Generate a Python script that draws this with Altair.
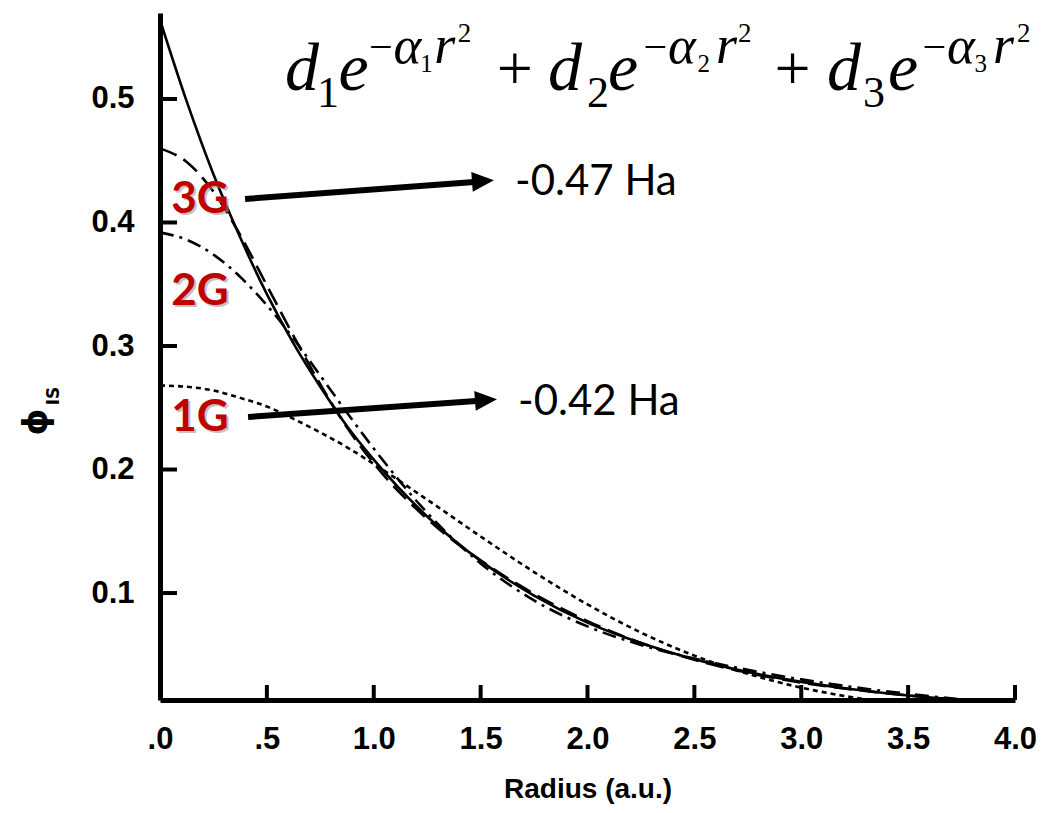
import altair as alt
import pandas as pd

# ---------------- data ----------------
radius = [0.0, 0.125, 0.25, 0.375, 0.5, 0.625, 0.75, 0.875, 1.0, 1.25, 1.5,
          1.75, 2.0, 2.25, 2.5, 2.75, 3.0, 3.25, 3.5, 3.75, 4.0]

exact_sto = [0.564, 0.498, 0.439, 0.388, 0.342, 0.302, 0.267, 0.235, 0.208,
             0.162, 0.126, 0.098, 0.076, 0.0595, 0.0463, 0.0361, 0.0281,
             0.0219, 0.0170, 0.0133, 0.0103]
sto_3g = [0.460, 0.449, 0.425, 0.390, 0.349, 0.308, 0.269, 0.234, 0.205,
          0.160, 0.1265, 0.0994, 0.0773, 0.0596, 0.0459, 0.0354, 0.0275,
          0.0217, 0.0171, 0.0135, 0.0107]
sto_2g = [0.392, 0.386, 0.374, 0.356, 0.333, 0.306, 0.276, 0.246, 0.217,
          0.165, 0.124, 0.094, 0.073, 0.058, 0.0469, 0.0378, 0.0301,
          0.0237, 0.0184, 0.0139, 0.0104]
sto_1g = [0.268, 0.267, 0.264, 0.258, 0.251, 0.241, 0.230, 0.218, 0.2045,
          0.1756, 0.1458, 0.117, 0.0908, 0.068, 0.0493, 0.0346, 0.0234,
          0.0153, 0.0097, 0.0059, 0.0035]

x_tick_values = [0.0, 0.5, 1.0, 1.5, 2.0, 2.5, 3.0, 3.5, 4.0]
x_inner_ticks = [0.5, 1.0, 1.5, 2.0, 2.5, 3.0, 3.5, 4.0]
y_tick_values = [0.1, 0.2, 0.3, 0.4, 0.5]

series_labels = ["3G", "2G", "1G"]
series_label_x = [0.187, 0.187, 0.187]
series_label_y = [0.418, 0.3437, 0.2417]

energy_text = ["-0.47 Ha", "-0.42 Ha"]
energy_x = [1.661, 1.675]
energy_y = [0.4223, 0.2441]

arrow_x = [0.398, 0.412]
arrow_y = [0.419, 0.2425]
arrow_x2 = [1.47, 1.48]
arrow_y2 = [0.4328, 0.2555]
head_x = [1.511, 1.525]
head_y = [0.4336, 0.2563]

# equation pieces: text, x, y, font size
eq_italic = [
    ("d", 0.585, 0.5073, 68), ("e", 0.835, 0.5073, 68), ("α", 1.092, 0.5291, 53), ("r", 1.283, 0.5291, 54),
    ("d", 1.815, 0.5073, 68), ("e", 2.096, 0.5073, 68), ("α", 2.377, 0.5291, 53), ("r", 2.601, 0.5291, 54),
    ("d", 3.120, 0.5073, 68), ("e", 3.406, 0.5073, 68), ("α", 3.682, 0.5291, 53), ("r", 3.897, 0.5291, 54),
]
eq_upright = [
    ("1", 0.735, 0.4935, 44), ("\u2212", 0.978, 0.5308, 42), ("1", 1.218, 0.5219, 25), ("2", 1.393, 0.5462, 27), ("+", 1.575, 0.5073, 64),
    ("2", 1.998, 0.4935, 44), ("\u2212", 2.262, 0.5308, 42), ("2", 2.515, 0.5219, 25), ("2", 2.704, 0.5462, 27), ("+", 2.875, 0.5073, 64),
    ("3", 3.289, 0.4935, 44), ("\u2212", 3.567, 0.5308, 42), ("3", 3.810, 0.5219, 25), ("2", 4.009, 0.5462, 27),
]

# ---------------- tables ----------------
rows = []
for name, vals in [("exact", exact_sto), ("3G", sto_3g), ("2G", sto_2g), ("1G", sto_1g)]:
    for r, v in zip(radius, vals):
        rows.append({"r": r, "phi": v, "series": name})
curves = pd.DataFrame(rows)

labels_df = pd.DataFrame({"t": series_labels, "x": series_label_x, "y": series_label_y})
energy_df = pd.DataFrame({"t": energy_text, "x": energy_x, "y": energy_y})
arrows_df = pd.DataFrame({"x": arrow_x, "y": arrow_y, "x2": arrow_x2, "y2": arrow_y2})
heads_df = pd.DataFrame({"x": head_x, "y": head_y})
eq_it_df = pd.DataFrame(eq_italic, columns=["t", "x", "y", "s"])
eq_up_df = pd.DataFrame(eq_upright, columns=["t", "x", "y", "s"])
xt_df = pd.DataFrame({"x": x_inner_ticks})
yt_df = pd.DataFrame({"y": y_tick_values})
ytitle_df = pd.DataFrame({"t": ["\u03d5", "IS"], "x": [-0.575, -0.496], "y": [0.2385, 0.2595], "s": [34, 17]})

W, H = 855, 687
xs = alt.Scale(domain=[0.0, 4.0], nice=False, zero=False)
ys = alt.Scale(domain=[0.0134, 0.5696], nice=False, zero=False)

AX_FONT = "Liberation Sans"

x_axis = alt.Axis(
    values=x_tick_values,
    labelExpr="datum.value == 0 ? '.0' : (datum.value == 0.5 ? '.5' : format(datum.value, '.1f'))",
    ticks=False, tickSize=0, grid=False,
    domainWidth=5, domainColor="black",
    labelFont=AX_FONT, labelFontWeight="bold", labelFontSize=31, labelColor="black",
    labelPadding=24, labelFlush=False, labelOverlap=False,
    title="Radius (a.u.)", titleFont=AX_FONT, titleFontWeight="bold", titleFontSize=28,
    titleColor="black", titleY=89, titleBaseline="middle",
)
y_axis = alt.Axis(
    values=y_tick_values, format=".1f",
    ticks=False, tickSize=0, grid=False,
    domainWidth=5, domainColor="black",
    labelFont=AX_FONT, labelFontWeight="bold", labelFontSize=31, labelColor="black",
    labelPadding=26, labelFlush=False, labelOverlap=False,
    title="",
)


def X(field):
    return alt.X(field, type="quantitative", scale=xs, axis=x_axis)


def Y(field):
    return alt.Y(field, type="quantitative", scale=ys, axis=y_axis)


def curve(name, dash=None):
    kw = dict(color="black", strokeWidth=2.6, clip=True, interpolate="monotone")
    if dash:
        kw["strokeDash"] = dash
    return alt.Chart(curves).transform_filter(alt.datum.series == name).mark_line(**kw).encode(
        x=X("r"), y=Y("phi"),
    )


x_ticks = alt.Chart(xt_df).mark_rule(color="black", strokeWidth=4).encode(
    x=X("x"), y=alt.value(H), y2=alt.value(H - 15))
y_ticks = alt.Chart(yt_df).mark_rule(color="black", strokeWidth=4).encode(
    y=Y("y"), x=alt.value(0), x2=alt.value(17))

arrows = alt.Chart(arrows_df).mark_rule(color="black", strokeWidth=6, strokeCap="butt").encode(
    x=X("x"), y=Y("y"), x2="x2:Q", y2="y2:Q")
heads = alt.Chart(heads_df).mark_point(
    shape="M -1 -0.9 L 1 0 L -1 0.9 Z", filled=True, size=484, angle=355.7,
    color="black", opacity=1, strokeWidth=0,
).encode(x=X("x"), y=Y("y"))

label_shadow = alt.Chart(labels_df).mark_text(
    font="Lato", fontWeight="bold", fontSize=44, color="#9a9a9a", opacity=0.6,
    align="center", baseline="middle", dx=2, dy=2,
).encode(x=X("x"), y=Y("y"), text="t:N")
label_text = alt.Chart(labels_df).mark_text(
    font="Lato", fontWeight="bold", fontSize=44, color="#C00000",
    align="center", baseline="middle",
).encode(x=X("x"), y=Y("y"), text="t:N")

energy = alt.Chart(energy_df).mark_text(
    font="Lato", fontSize=42, color="black", align="left", baseline="alphabetic",
).encode(x=X("x"), y=Y("y"), text="t:N")

eq_it = alt.Chart(eq_it_df).mark_text(
    font="Liberation Serif", fontStyle="italic", color="black", align="left", baseline="alphabetic",
).encode(x=X("x"), y=Y("y"), text="t:N", size=alt.Size("s:Q", scale=None, legend=None))
eq_up = alt.Chart(eq_up_df).mark_text(
    font="Liberation Serif", color="black", align="left", baseline="alphabetic",
).encode(x=X("x"), y=Y("y"), text="t:N", size=alt.Size("s:Q", scale=None, legend=None))

ytitle = alt.Chart(ytitle_df).mark_text(
    font="DejaVu Sans", fontWeight="bold", color="black", align="center", baseline="middle", angle=270,
).encode(x=X("x"), y=Y("y"), text="t:N", size=alt.Size("s:Q", scale=None, legend=None))

chart = alt.layer(
    curve("exact"),
    curve("3G", [18, 8]),
    curve("2G", [14, 6, 3, 6]),
    curve("1G", [5, 4]),
    x_ticks, y_ticks,
    arrows, heads,
    label_shadow, label_text,
    energy, eq_it, eq_up, ytitle,
).properties(
    width=W, height=H,
    autosize=alt.AutoSizeParams(type="none"),
    padding={"left": 152, "top": 5, "right": 25, "bottom": 104},
    background="white",
).configure_view(stroke=None)

chart.save("out.html", embed_options={"renderer": "svg", "actions": False})
